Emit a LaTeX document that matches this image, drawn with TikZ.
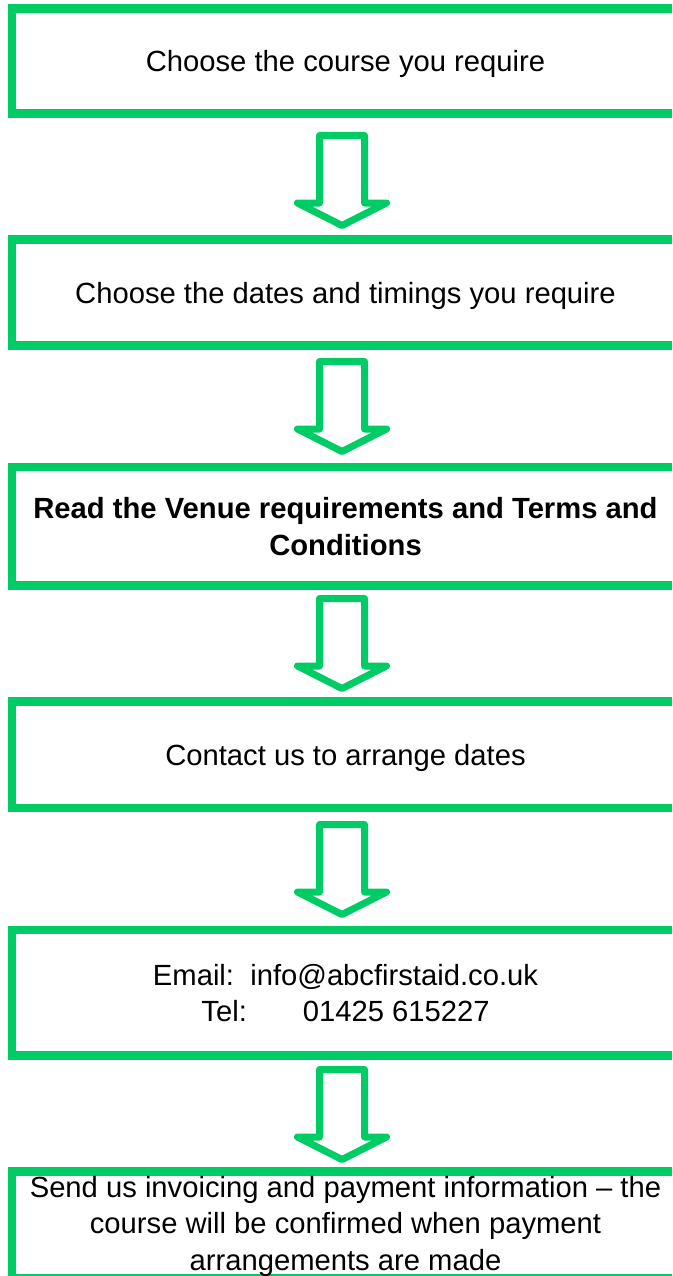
\documentclass[tikz,border=0pt]{standalone}
\usepackage{fontspec}
\setmainfont{Liberation Sans}
\definecolor{flowgreen}{RGB}{0,204,102}
\begin{document}
\begin{tikzpicture}[x=1pt,y=-1pt,
  stepbox/.style={draw=flowgreen, line width=8.5pt, rectangle, minimum width=667pt,
    inner sep=0pt, align=center, text depth=0pt, font=\fontsize{29.2}{36.5}\selectfont},
  barrow/.style={draw=flowgreen, line width=7pt, line join=round, fill=white}]
\useasboundingbox (0,0) rectangle (672,1276);
\clip (0,0) rectangle (672,1276);
\node[stepbox, minimum height=105.2pt] (b1) at (345.5,60.9) {Choose the course you require};
\node[stepbox, minimum height=106pt] (b2) at (345.5,292.5) {Choose the dates and timings you require};
\node[stepbox, minimum height=118.5pt] (b3) at (345.5,526.25) {\bfseries Read the Venue requirements and Terms and\\\bfseries Conditions};
\node[stepbox, minimum height=106.5pt] (b4) at (345.5,754.75) {Contact us to arrange dates};
\node[stepbox, minimum height=125.5pt] (b5) at (345.5,992.75) {Email:\ \ info@abcfirstaid.co.uk\\Tel:\hspace{56pt}01425 615227};
\node[stepbox, minimum height=107pt] (b6) at (345.5,1225) {};
\node[align=center, inner sep=0pt, font=\fontsize{29.2}{36.5}\selectfont, text depth=0pt] (b6text) at (345.5,1223) {Send us invoicing and payment information -- the\\course will be confirmed when payment\\arrangements are made};
\coordinate (t1) at (342,225.5);
\coordinate (t2) at (342,451.5);
\coordinate (t3) at (342,688.5);
\coordinate (t4) at (342,914.5);
\coordinate (t5) at (342,1159.5);
\foreach \t in {t1,t2,t3,t4,t5}{
  \draw[barrow] (\t) -- ++(-44.5,-22.5) -- ++(22,0) -- ++(0,-67.5) -- ++(45,0) -- ++(0,67.5) -- ++(22,0) -- cycle;
}
\end{tikzpicture}
\end{document}
